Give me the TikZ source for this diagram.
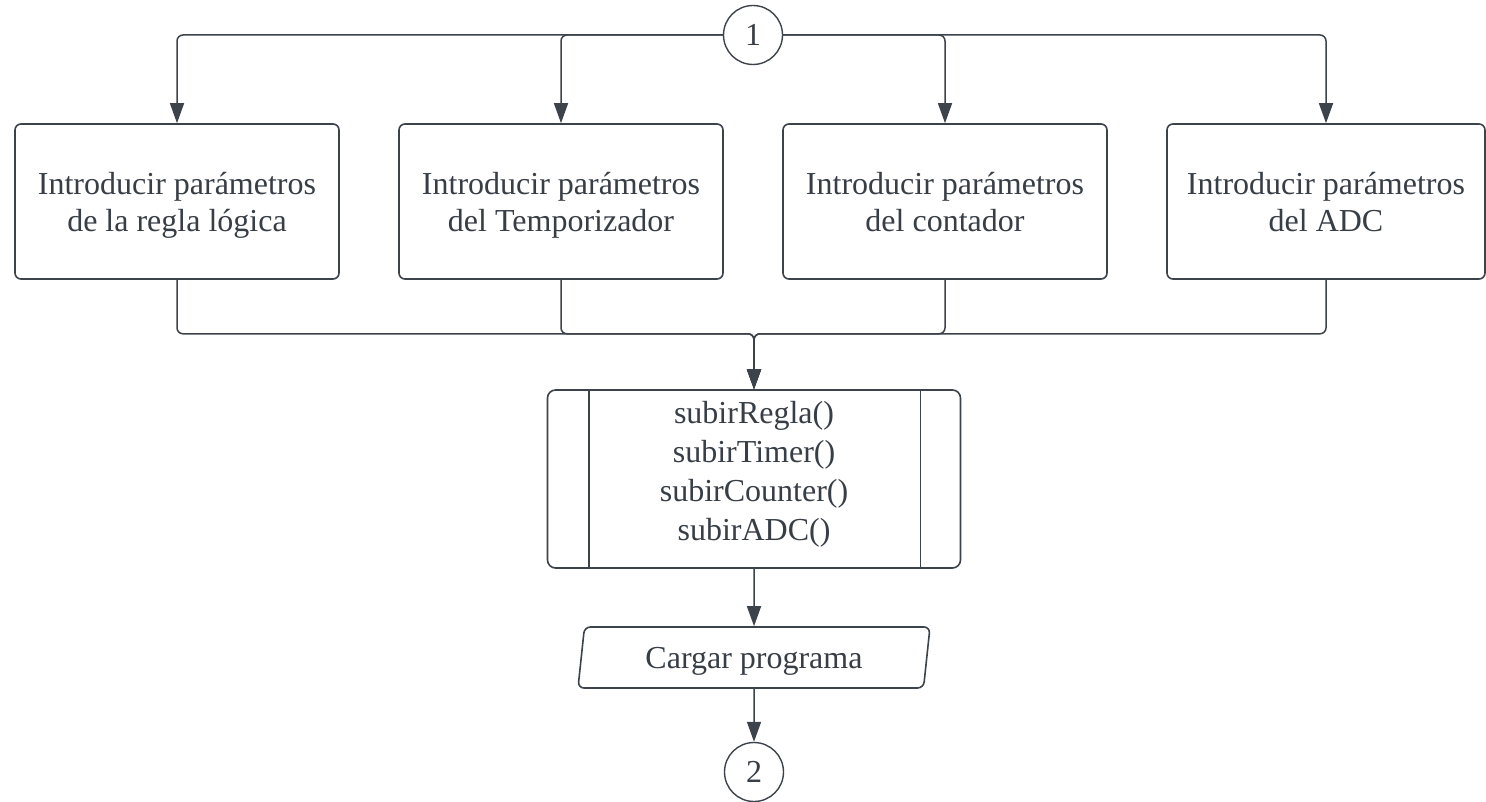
\documentclass[tikz,border=0pt]{standalone}
\usepackage{fontspec}
\setmainfont{Liberation Serif}
\usetikzlibrary{arrows.meta,shapes.geometric,calc}
\definecolor{ln}{HTML}{3D434B}
\definecolor{tx}{HTML}{383E46}
\newcommand{\nodp}[1]{\raisebox{0pt}[\height][0pt]{#1}}
\begin{document}
\begin{tikzpicture}[x=1pt,y=-1pt,
  txt/.style={text=tx,font=\fontsize{32}{37}\selectfont,align=center},
  box/.style={txt,draw=ln,line width=1.6pt,rounded corners=6pt,minimum width=324pt,minimum height=155pt,inner sep=0pt},
  conn/.style={draw=ln,line width=1.5pt,rounded corners=6pt},
  arr/.style={conn,-{Triangle[width=14pt,length=20pt]}},
  conncircle/.style={txt,circle,draw=ln,line width=1.4pt,minimum size=59pt,inner sep=0pt},
  subproc/.style={txt,font=\fontsize{32}{39}\selectfont,draw=ln,line width=1.6pt,rounded corners=8pt,minimum width=413pt,minimum height=178pt,inner sep=0pt},
  iobox/.style={txt,trapezium,trapezium left angle=73,trapezium right angle=107,trapezium stretches body,draw=ln,line width=1.6pt,rounded corners=6pt,minimum width=352pt,minimum height=61pt,inner sep=0pt}
]
\useasboundingbox (0,0) rectangle (1486,802);
\fill[white] (0,0) rectangle (1486,802);

\node[conncircle] (c1) at (753,35) {1};
\node[box] (b1) at (177,201.5) {Introducir parámetros\\\nodp{de la regla lógica}};
\node[box] (b2) at (561,201.5) {Introducir parámetros\\\nodp{del Temporizador}};
\node[box] (b3) at (945,201.5) {Introducir parámetros\\\nodp{del contador}};
\node[box,minimum width=318pt] (b4) at (1326,201.5) {Introducir parámetros\\\nodp{del ADC}};

\node[subproc] (sub) at (754,479) {subirRegla()\\subirTimer()\\subirCounter()\\\raisebox{0pt}[\height][17pt]{subirADC()}};
\draw[ln,line width=1.6pt] ($(sub.north west)+(42,0)$) -- ($(sub.south west)+(42,0)$);
\draw[ln,line width=1.6pt] ($(sub.north east)+(-41,0)$) -- ($(sub.south east)+(-41,0)$);

\node[iobox] (io) at (754,657.5) {\nodp{Cargar programa}};
\node[conncircle] (c2) at (754,772) {2};

\draw[arr] (c1.west) -| (b1.north);
\draw[arr] (c1.west) -| (b2.north);
\draw[arr] (c1.east) -| (b3.north);
\draw[arr] (c1.east) -| (b4.north);

\draw[arr] (b1.south) -- ++(0,54) -| (sub.north);
\draw[arr] (b2.south) -- ++(0,54) -| (sub.north);
\draw[arr] (b3.south) -- ++(0,54) -| (sub.north);
\draw[arr] (b4.south) -- ++(0,54) -| (sub.north);

\draw[arr] (sub.south) -- (io.north);
\draw[arr] (io.south) -- (c2.north);
\end{tikzpicture}
\end{document}
